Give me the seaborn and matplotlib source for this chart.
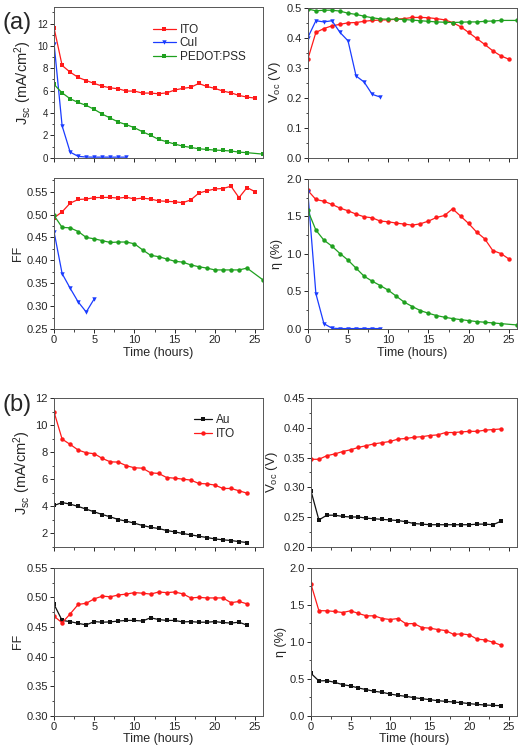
import matplotlib
matplotlib.use("Agg")
import matplotlib.pyplot as plt
import seaborn as sns
from matplotlib.ticker import AutoMinorLocator, FormatStrFormatter, MultipleLocator

# ---- data ----
hours_a = list(range(26))
hours_pedot = list(range(25)) + [26]
hours_cui = list(range(10))
hours_cui_ff = list(range(6))
hours_b = list(range(25))

# (a) ITO / CuI / PEDOT:PSS
jsc_ito_a = [11.6, 8.25, 7.65, 7.18, 6.9, 6.64, 6.4, 6.25, 6.16, 5.96, 5.96, 5.78, 5.78,
             5.72, 5.8, 6.05, 6.2, 6.3, 6.64, 6.37, 6.2, 5.96, 5.8, 5.57, 5.42, 5.33]
jsc_cui = [10.2, 2.85, 0.5, 0.12, 0.06, 0.05, 0.05, 0.05, 0.05, 0.05]
jsc_pedot = [6.55, 5.8, 5.27, 4.94, 4.68, 4.32, 3.9, 3.54, 3.19, 2.95, 2.68, 2.32, 2.0,
             1.64, 1.43, 1.22, 1.04, 0.92, 0.8, 0.74, 0.68, 0.65, 0.6, 0.5, 0.45, 0.32]

voc_ito_a = [0.328, 0.417, 0.43, 0.439, 0.444, 0.449, 0.45, 0.454, 0.457, 0.458, 0.459,
             0.461, 0.463, 0.467, 0.467, 0.466, 0.463, 0.459, 0.45, 0.436, 0.417, 0.397,
             0.377, 0.356, 0.339, 0.328]
voc_cui = [0.4, 0.456, 0.452, 0.456, 0.417, 0.389, 0.272, 0.252, 0.211, 0.202]
voc_pedot = [0.495, 0.489, 0.491, 0.491, 0.488, 0.481, 0.477, 0.471, 0.466, 0.462, 0.461,
             0.461, 0.46, 0.458, 0.456, 0.454, 0.452, 0.451, 0.45, 0.451, 0.452, 0.452,
             0.454, 0.455, 0.457, 0.457]

ff_ito_a = [0.493, 0.506, 0.525, 0.533, 0.534, 0.537, 0.5375, 0.5375, 0.536, 0.538, 0.534,
            0.536, 0.534, 0.530, 0.529, 0.528, 0.526, 0.532, 0.547, 0.552, 0.556, 0.557,
            0.562, 0.537, 0.559, 0.55]
ff_cui = [0.462, 0.371, 0.339, 0.309, 0.287, 0.316]
ff_pedot = [0.498, 0.472, 0.471, 0.463, 0.45, 0.447, 0.443, 0.439, 0.44, 0.44, 0.436, 0.423,
            0.411, 0.408, 0.403, 0.398, 0.396, 0.39, 0.386, 0.383, 0.379, 0.379, 0.379,
            0.379, 0.383, 0.357]

eta_ito_a = [1.844, 1.724, 1.70, 1.658, 1.609, 1.573, 1.529, 1.493, 1.48, 1.436, 1.427,
             1.409, 1.396, 1.382, 1.4, 1.436, 1.484, 1.511, 1.6, 1.502, 1.404, 1.289, 1.2,
             1.044, 1.004, 0.933]
eta_cui = [1.82, 0.47, 0.07, 0.01, 0.005, 0.005, 0.005, 0.005, 0.005, 0.005]
eta_pedot = [1.578, 1.316, 1.182, 1.102, 1.004, 0.916, 0.809, 0.702, 0.636, 0.578, 0.516,
             0.436, 0.356, 0.298, 0.244, 0.209, 0.178, 0.156, 0.138, 0.124, 0.111, 0.098,
             0.089, 0.08, 0.071, 0.053]

# (b) Au / ITO
jsc_ito_b = [10.96, 8.96, 8.57, 8.15, 7.95, 7.88, 7.53, 7.28, 7.26, 6.99, 6.84, 6.81, 6.47,
             6.42, 6.12, 6.07, 6.0, 5.93, 5.68, 5.65, 5.56, 5.31, 5.31, 5.14, 4.96]
jsc_au = [4.05, 4.27, 4.15, 3.98, 3.78, 3.58, 3.38, 3.21, 3.01, 2.89, 2.74, 2.57, 2.44,
          2.35, 2.2, 2.1, 1.98, 1.88, 1.78, 1.68, 1.58, 1.51, 1.46, 1.38, 1.31]

voc_ito_b = [0.347, 0.347, 0.353, 0.356, 0.36, 0.363, 0.367, 0.37, 0.373, 0.375, 0.377,
             0.381, 0.382, 0.384, 0.385, 0.387, 0.388, 0.392, 0.392, 0.393, 0.394, 0.394,
             0.396, 0.397, 0.398]
voc_au = [0.294, 0.245, 0.253, 0.253, 0.251, 0.25, 0.25, 0.248, 0.247, 0.246, 0.245, 0.244,
          0.242, 0.239, 0.238, 0.237, 0.237, 0.237, 0.237, 0.237, 0.237, 0.238, 0.238,
          0.237, 0.243]

ff_ito_b = [0.468, 0.457, 0.472, 0.488, 0.490, 0.4975, 0.502, 0.501, 0.504, 0.5055, 0.508,
            0.507, 0.5055, 0.509, 0.508, 0.509, 0.506, 0.499, 0.5, 0.499, 0.499, 0.499,
            0.491, 0.493, 0.489]
ff_au = [0.488, 0.461, 0.459, 0.456, 0.4535, 0.459, 0.458, 0.4585, 0.46, 0.461, 0.461, 0.46,
         0.4655, 0.4625, 0.461, 0.461, 0.4585, 0.459, 0.458, 0.458, 0.459, 0.4575, 0.4565,
         0.458, 0.453]

eta_ito_b = [1.78, 1.42, 1.418, 1.409, 1.395, 1.418, 1.382, 1.35, 1.35, 1.314, 1.30, 1.314,
             1.242, 1.246, 1.192, 1.183, 1.165, 1.151, 1.10, 1.106, 1.093, 1.034, 1.025,
             0.993, 0.953]
eta_au = [0.573, 0.47, 0.474, 0.451, 0.42, 0.402, 0.375, 0.352, 0.33, 0.316, 0.293, 0.275,
          0.262, 0.244, 0.23, 0.217, 0.203, 0.194, 0.185, 0.176, 0.163, 0.153, 0.144, 0.14,
          0.135]

RED = "#ff1a1a"
BLUE = "#1a3cff"
GREEN = "#1fa01f"
BLACK = "#111111"

sns.set_style("ticks")
plt.rcParams["font.family"] = ["Liberation Sans", "DejaVu Sans"]
plt.rcParams["mathtext.fontset"] = "custom"
plt.rcParams["mathtext.rm"] = "Liberation Sans"
plt.rcParams["mathtext.it"] = "Liberation Sans:italic"

fig = plt.figure(figsize=(5.2, 7.51), dpi=100)

ax_jsc_a = fig.add_axes([0.104, 0.790, 0.402, 0.201])
ax_voc_a = fig.add_axes([0.592, 0.790, 0.402, 0.200])
ax_ff_a = fig.add_axes([0.104, 0.562, 0.402, 0.201])
ax_eta_a = fig.add_axes([0.592, 0.562, 0.402, 0.200])
ax_jsc_b = fig.add_axes([0.104, 0.272, 0.402, 0.198])
ax_voc_b = fig.add_axes([0.598, 0.272, 0.396, 0.198])
ax_ff_b = fig.add_axes([0.104, 0.047, 0.402, 0.197])
ax_eta_b = fig.add_axes([0.598, 0.047, 0.396, 0.197])


def draw(ax, x, y, color, marker, label=None, ms=3.2):
    sns.lineplot(x=x, y=y, ax=ax, color=color, marker=marker, markersize=ms,
                 markeredgewidth=0, linewidth=0.9, label=label, legend=False,
                 errorbar=None, sort=False)


# (a)
draw(ax_jsc_a, hours_a, jsc_ito_a, RED, "s", "ITO")
draw(ax_jsc_a, hours_cui, jsc_cui, BLUE, "v", "CuI")
draw(ax_jsc_a, hours_pedot, jsc_pedot, GREEN, "s", "PEDOT:PSS")

draw(ax_voc_a, hours_a, voc_ito_a, RED, "o")
draw(ax_voc_a, hours_cui, voc_cui, BLUE, "v")
draw(ax_voc_a, hours_pedot, voc_pedot, GREEN, "o")

draw(ax_ff_a, hours_a, ff_ito_a, RED, "s")
draw(ax_ff_a, hours_cui_ff, ff_cui, BLUE, "v")
draw(ax_ff_a, hours_pedot, ff_pedot, GREEN, "o")

draw(ax_eta_a, hours_a, eta_ito_a, RED, "o")
draw(ax_eta_a, hours_cui, eta_cui, BLUE, "v")
draw(ax_eta_a, hours_pedot, eta_pedot, GREEN, "o")

# (b)
draw(ax_jsc_b, hours_b, jsc_au, BLACK, "s", "Au")
draw(ax_jsc_b, hours_b, jsc_ito_b, RED, "o", "ITO")
draw(ax_voc_b, hours_b, voc_au, BLACK, "s")
draw(ax_voc_b, hours_b, voc_ito_b, RED, "o")
draw(ax_ff_b, hours_b, ff_au, BLACK, "s")
draw(ax_ff_b, hours_b, ff_ito_b, RED, "o")
draw(ax_eta_b, hours_b, eta_au, BLACK, "s")
draw(ax_eta_b, hours_b, eta_ito_b, RED, "o")

# axis setup: (axes, ylim, major step, format, ylabel, label size, show x labels)
jsc_label = r"J$_{\rm sc}$ (mA/cm$^{2}$)"
voc_label = r"V$_{\rm oc}$ (V)"
setup = [
    (ax_jsc_a, (0, 13.5), 2, "%d", jsc_label, 10.5, False),
    (ax_voc_a, (0, 0.5), 0.1, "%.1f", voc_label, 9.5, False),
    (ax_ff_a, (0.25, 0.58), 0.05, "%.2f", "FF", 9, True),
    (ax_eta_a, (0, 2.0), 0.5, "%.1f", "η (%)", 9, True),
    (ax_jsc_b, (1, 12), 2, "%d", jsc_label, 10.5, False),
    (ax_voc_b, (0.2, 0.45), 0.05, "%.2f", voc_label, 9.5, False),
    (ax_ff_b, (0.3, 0.55), 0.05, "%.2f", "FF", 9, True),
    (ax_eta_b, (0, 2.0), 0.5, "%.1f", "η (%)", 9, True),
]
for ax, ylim, step, fmt, ylab, lsize, xlab in setup:
    ax.set_xlim(0, 26)
    ax.set_ylim(*ylim)
    ax.xaxis.set_major_locator(MultipleLocator(5))
    ax.xaxis.set_minor_locator(AutoMinorLocator(2))
    ax.yaxis.set_major_locator(MultipleLocator(step))
    ax.yaxis.set_minor_locator(AutoMinorLocator(2))
    ax.yaxis.set_major_formatter(FormatStrFormatter(fmt))
    ax.tick_params(which="major", direction="out", length=3, width=0.7, labelsize=8, pad=1.5)
    ax.tick_params(which="minor", direction="out", length=1.8, width=0.6)
    for sp in ax.spines.values():
        sp.set_linewidth(0.7)
        sp.set_color("#555555")
    ax.set_ylabel(ylab, fontsize=lsize, labelpad=2)
    if xlab:
        ax.set_xlabel("Time (hours)", fontsize=9, labelpad=1)
    else:
        ax.set_xlabel("")
        ax.tick_params(axis="x", labelbottom=False)

ax_jsc_a.tick_params(axis="y", labelsize=7)

ax_jsc_a.legend(loc="upper right", bbox_to_anchor=(0.95, 0.935), frameon=False, fontsize=8.5,
                handlelength=2.0, handletextpad=0.3, labelspacing=0.15, borderaxespad=0.2)
ax_jsc_b.legend(loc="upper right", bbox_to_anchor=(0.9, 0.94), frameon=False, fontsize=8.5,
                handlelength=1.6, handletextpad=0.3, labelspacing=0.15, borderaxespad=0.2)

fig.text(0.005, 0.969, "(a)", fontsize=17, va="center", ha="left")
fig.text(0.005, 0.461, "(b)", fontsize=17, va="center", ha="left")

fig.savefig("out.png", dpi=100)
